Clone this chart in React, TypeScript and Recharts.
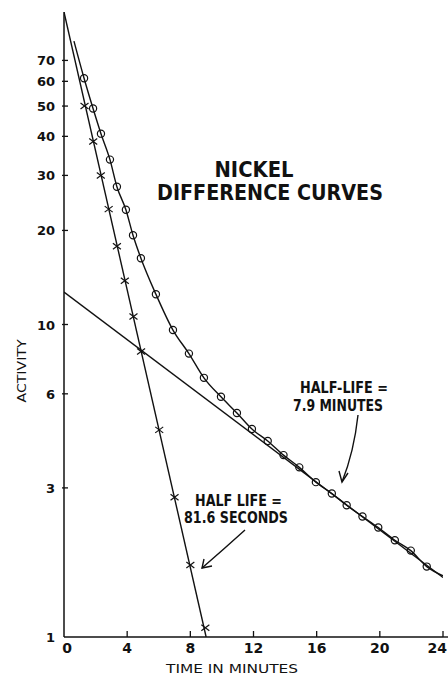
import React from "react";
import { ComposedChart, Line, Scatter, XAxis, YAxis, Customized } from "recharts";

// tick labels
const timeTicks = [0, 4, 8, 12, 16, 20, 24];
const activityTicks = [1, 3, 6, 10, 20, 30, 40, 50, 60, 70];

// short-lived component (half life 81.6 s), straight line on log paper
const fastLineT = [0, 9.0];
const fastLineV = [100, 1];
const crossT = [1.3, 1.85, 2.33, 2.83, 3.35, 3.85, 4.4, 4.88, 6.03, 7.0, 8.0, 8.95];
const crossV = [50, 38.5, 30, 23.4, 17.8, 13.8, 10.6, 8.2, 4.6, 2.8, 1.7, 1.07];

// long-lived component (half life 7.9 min)
const slowLineT = [0, 24];
const slowLineV = [12.7, 1.55];

// measured (circles) total activity
const circleT = [1.27, 1.84, 2.34, 2.91, 3.35, 3.92, 4.37, 4.87, 5.82, 6.9, 7.91, 8.86, 9.94, 10.95, 11.9, 12.9, 13.9, 14.9, 15.95, 16.96, 17.9, 18.9, 19.9, 20.95, 21.96, 22.97];
const circleV = [61.4, 49.1, 40.8, 33.7, 27.6, 23.3, 19.3, 16.3, 12.5, 9.6, 8.07, 6.75, 5.87, 5.21, 4.63, 4.24, 3.82, 3.49, 3.13, 2.88, 2.64, 2.43, 2.24, 2.04, 1.89, 1.68];
const curveStart = { t: 0.63, v: 80.7 };
const curveEnd = { t: 24, v: 1.57 };

const zip = (ts: number[], vs: number[]) => ts.map((t, i) => ({ t, v: vs[i] }));

const fastLine = zip(fastLineT, fastLineV);
const slowLine = zip(slowLineT, slowLineV);
const crosses = zip(crossT, crossV);
const circles = zip(circleT, circleV);
const curve = [curveStart, ...circles, curveEnd];

const ink = "#111";
const font = "'DejaVu Sans', sans-serif";

const TimeTick = (props: any) => {
  const { x, y, payload } = props;
  const v = payload.value;
  // last label sits against the right edge so it is not clipped
  const last = v === 24;
  return (
    <g>
      {v !== 0 && <line x1={x} x2={x} y1={y} y2={y - 6} stroke={ink} strokeWidth={1.3} />}
      <text
        x={last ? 447 : x + (v === 0 ? 3 : 0)}
        y={y + 16}
        textAnchor={last ? "end" : "middle"}
        fontFamily={font}
        fontWeight="bold"
        fontSize={14}
        fill={ink}
      >
        {v}
      </text>
    </g>
  );
};

const ActivityTick = (props: any) => {
  const { x, y, payload } = props;
  return (
    <g>
      {payload.value !== 1 && <line x1={x - 2} x2={x + 4} y1={y} y2={y} stroke={ink} strokeWidth={1.3} />}
      <text x={x - 9} y={y + 5} textAnchor="end" fontFamily={font} fontWeight="bold" fontSize={13} fill={ink}>
        {payload.value}
      </text>
    </g>
  );
};

const Cross = (props: any) => {
  const { cx, cy } = props;
  return (
    <g stroke={ink} strokeWidth={1.2}>
      <line x1={cx - 4} y1={cy - 3} x2={cx + 4} y2={cy + 3} />
      <line x1={cx - 4} y1={cy + 3} x2={cx + 4} y2={cy - 3} />
    </g>
  );
};

const Ring = (props: any) => {
  const { cx, cy } = props;
  return <circle cx={cx} cy={cy} r={3.6} fill="none" stroke={ink} strokeWidth={1.2} />;
};

const Notes = () => (
  <g fill={ink} fontFamily={font}>
    <text x={254} y={177} textAnchor="middle" fontSize={22} fontWeight="bold" textLength={79} lengthAdjust="spacingAndGlyphs">NICKEL</text>
    <text x={270} y={200} textAnchor="middle" fontSize={22} fontWeight="bold" textLength={226} lengthAdjust="spacingAndGlyphs">DIFFERENCE CURVES</text>

    <text x={300} y={393} fontSize={15} fontWeight="bold" textLength={88} lengthAdjust="spacingAndGlyphs">HALF-LIFE =</text>
    <text x={293} y={411} fontSize={15} fontWeight="bold" textLength={90} lengthAdjust="spacingAndGlyphs">7.9 MINUTES</text>
    <text x={195} y={506} fontSize={15} fontWeight="bold" textLength={87} lengthAdjust="spacingAndGlyphs">HALF LIFE =</text>
    <text x={184} y={523} fontSize={15} fontWeight="bold" textLength={104} lengthAdjust="spacingAndGlyphs">81.6 SECONDS</text>

    <text x={166} y={673} fontSize={13} textLength={132} lengthAdjust="spacingAndGlyphs">TIME  IN  MINUTES</text>
    <text x={26} y={371} fontSize={12} textAnchor="middle" transform="rotate(-90 26 371)" textLength={63} lengthAdjust="spacingAndGlyphs">ACTIVITY</text>

    <g stroke={ink} strokeWidth={1.4} fill="none">
      <path d="M358,415 Q354,452 342,482" />
      <path d="M339,471 L342,482 L348,473" />
      <path d="M245,530 Q224,549 202,568" />
      <path d="M204,559 L202,568 L212,566" />
      <line x1={443} x2={448} y1={637} y2={637} />
    </g>
  </g>
);

export default function App() {
  return (
    <div style={{ position: "absolute", left: 0, top: 0, width: 448, height: 675, background: "#fff" }}>
      <ComposedChart width={448} height={675} margin={{ top: 12, right: 5, left: 0, bottom: 0 }}>
        <XAxis
          type="number"
          dataKey="t"
          domain={[0, 24]}
          ticks={timeTicks}
          interval={0}
          allowDataOverflow
          height={38}
          tickSize={0}
          tickMargin={0}
          tickLine={false}
          axisLine={{ stroke: ink, strokeWidth: 1.5 }}
          tick={<TimeTick />}
        />
        <YAxis
          type="number"
          dataKey="v"
          scale="log"
          domain={[1, 100]}
          ticks={activityTicks}
          interval={0}
          allowDataOverflow
          width={64}
          tickSize={0}
          tickMargin={0}
          tickLine={false}
          axisLine={{ stroke: ink, strokeWidth: 1.5 }}
          tick={<ActivityTick />}
        />
        <Line data={fastLine} dataKey="v" type="linear" stroke={ink} strokeWidth={1.4} dot={false} isAnimationActive={false} />
        <Line data={slowLine} dataKey="v" type="linear" stroke={ink} strokeWidth={1.4} dot={false} isAnimationActive={false} />
        <Line data={curve} dataKey="v" type="monotone" stroke={ink} strokeWidth={1.4} dot={false} isAnimationActive={false} />
        <Scatter data={crosses} dataKey="v" shape={<Cross />} isAnimationActive={false} />
        <Scatter data={circles} dataKey="v" shape={<Ring />} isAnimationActive={false} />
        <Customized component={Notes} />
      </ComposedChart>
    </div>
  );
}
